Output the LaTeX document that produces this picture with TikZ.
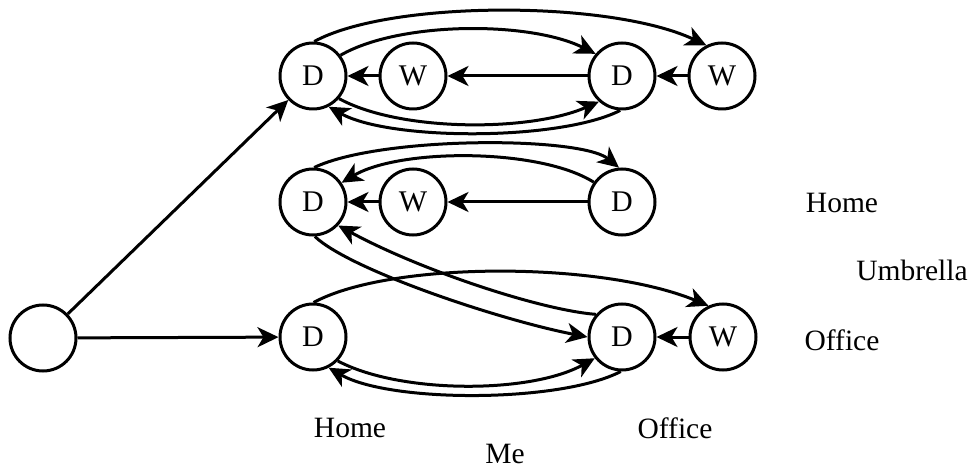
\documentclass[tikz,border=0pt]{standalone}
\usepackage{fontspec}
\setmainfont{Liberation Serif}
\usetikzlibrary{arrows.meta}
\begin{document}
\begin{tikzpicture}[x=1pt,y=-1pt,
  state/.style={circle,draw,line width=3pt,minimum size=66pt,inner sep=0pt,font=\fontsize{30}{32}\selectfont},
  lbl/.style={inner sep=0pt,font=\fontsize{29.5}{32}\selectfont},
  arr/.style={line width=3pt,-{Stealth[length=21pt,width=20pt,inset=6pt]}}]
\useasboundingbox (0,0) rectangle (974,470);
% nodes
\node[state] (s) at (43,338) {};
\node[state] (d1) at (313,76) {D};
\node[state] (w1) at (413,76) {W};
\node[state] (d2) at (622,76) {D};
\node[state] (w2) at (722,76) {W};
\node[state] (d3) at (313,202) {D};
\node[state] (w3) at (413,202) {W};
\node[state] (d4) at (622,202) {D};
\node[state] (d5) at (313,337) {D};
\node[state] (d6) at (622,337) {D};
\node[state] (w6) at (723,337) {W};
% labels
\node[lbl] (lhome) at (842,203) {Home};
\node[lbl] (lumb) at (912,270) {Umbrella};
\node[lbl] (loff) at (842,340) {Office};
\node[lbl] (bhome) at (350,428) {Home};
\node[lbl] (boff) at (675,428) {Office};
\node[lbl] (me) at (505,454) {Me};
% start edges
\draw[arr] (s) -- (d1);
\draw[arr] (s) -- (d5);
% straight edges
\draw[arr] (w1) -- (d1);
\draw[arr] (d2) -- (w1);
\draw[arr] (w2) -- (d2);
\draw[arr] (w3) -- (d3);
\draw[arr] (d4) -- (w3);
\draw[arr] (w6) -- (d6);
% row 1 curves
\draw[arr] (d1.37) .. controls (400,21) and (530,21) .. (d2.140);
\draw[arr] (d1.88) .. controls (390,0) and (610,0) .. (w2.117);
\draw[arr] (d1.-41) .. controls (400,132) and (530,132) .. (d2.-132);
\draw[arr] (d2.-93) .. controls (560,141) and (390,141) .. (d1.-63);
% row 2 curves
\draw[arr] (d3.88) .. controls (380,136) and (580,136) .. (d4.95);
\draw[arr] (d4.145) .. controls (540,148) and (400,148) .. (d3.34);
\draw[arr] (d3.-87) .. controls (350,270) and (500,320) .. (d6.180);
\draw[arr] (d6.139) .. controls (540,310) and (420,270) .. (d3.-43);
% row 3 curves
\draw[arr] (d5.89) .. controls (390,261) and (600,261) .. (w6.115);
\draw[arr] (d5.-44) .. controls (400,394) and (530,394) .. (d6.-142);
\draw[arr] (d6.-92) .. controls (560,403) and (390,403) .. (d5.-63);
\end{tikzpicture}
\end{document}
